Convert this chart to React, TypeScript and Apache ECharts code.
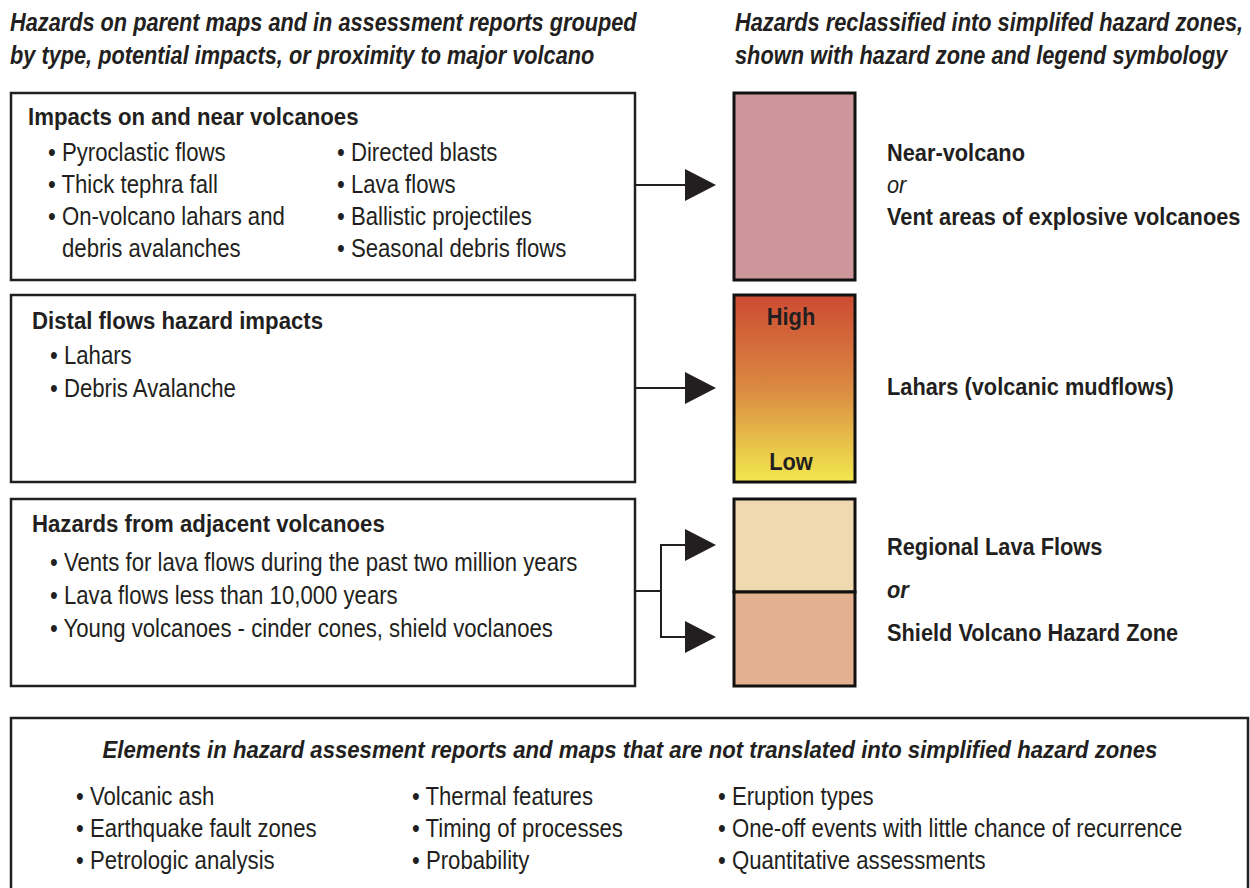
import React, { useEffect, useRef } from "react";
import * as echarts from "echarts";

const headerLeft = [
  "Hazards on parent maps and in assessment reports grouped",
  "by type, potential impacts, or proximity to major volcano",
];
const headerRight = [
  "Hazards reclassified into simplifed hazard zones,",
  "shown with hazard zone and legend symbology",
];
const box1Title = "Impacts on and near volcanoes";
const box1Col1 = ["• Pyroclastic flows", "• Thick tephra fall", "• On-volcano lahars and", "debris avalanches"];
const box1Col2 = ["• Directed blasts", "• Lava flows", "• Ballistic projectiles", "• Seasonal debris flows"];
const box2Title = "Distal flows hazard impacts";
const box2Items = ["• Lahars", "• Debris Avalanche"];
const box3Title = "Hazards from adjacent volcanoes";
const box3Items = [
  "• Vents for lava flows during the past two million years",
  "• Lava flows less than 10,000 years",
  "• Young volcanoes - cinder cones, shield voclanoes",
];
const zone1Labels = ["Near-volcano", "or", "Vent areas of explosive volcanoes"];
const zone2Label = "Lahars (volcanic mudflows)";
const zone2Scale = ["High", "Low"];
const zone3Labels = ["Regional Lava Flows", "or", "Shield Volcano Hazard Zone"];
const zoneColors = ["#cc969a", "#f0d9b0", "#e3b18f"];
const laharGradient = ["#cd4a33", "#da8a42", "#f2e84e"];
const bottomTitle =
  "Elements in hazard assesment reports and maps that are not translated into simplified hazard zones";
const bottomCol1 = ["• Volcanic ash", "• Earthquake fault zones", "• Petrologic analysis"];
const bottomCol2 = ["• Thermal features", "• Timing of processes", "• Probability"];
const bottomCol3 = ["• Eruption types", "• One-off events with little chance of recurrence", "• Quantitative assessments"];

const FONT = "'Liberation Sans', Arial, Helvetica, sans-serif";
const INK = "#231f20";

function txt(x: number, y: number, text: string, size: number, sx: number, opts: any = {}) {
  return {
    type: "text",
    x,
    y,
    scaleX: sx,
    style: {
      text,
      fill: INK,
      font: `${opts.italic ? "italic " : ""}${opts.bold ? "bold " : ""}${size}px ${FONT}`,
      textAlign: opts.align || "left",
      textVerticalAlign: "middle",
    },
  };
}

const BODY_SIZE = 25;
const BODY_SX = 0.887;

function list(x: number, y0: number, step: number, items: string[]) {
  return items.map((t, i) =>
    txt(t.startsWith("•") ? x : x + 14, y0 + i * step, t, BODY_SIZE, BODY_SX)
  );
}

function title(x: number, y: number, t: string) {
  return txt(x, y, t, 24, 0.925, { bold: true });
}

function label(x: number, y: number, t: string, opts: any = { bold: true }) {
  return txt(x, y, t, 24, 0.908, opts);
}

function arrowHead(xTip: number, y: number) {
  return {
    type: "polygon",
    shape: { points: [[xTip - 31, y - 16], [xTip, y], [xTip - 31, y + 16]] },
    style: { fill: INK },
  };
}

export default function App() {
  const ref = useRef<HTMLDivElement>(null);
  useEffect(() => {
    document.body.style.margin = "0";
    const chart = echarts.init(ref.current!, null, { renderer: "svg" });
    const boxStyle = { fill: "#fff", stroke: INK, lineWidth: 2.5 };
    const zoneStroke = { stroke: "#111", lineWidth: 3 };
    const elements: any[] = [
      // headers
      ...headerLeft.map((t, i) => txt(10, 22 + i * 33, t, 26, 0.836, { bold: true, italic: true })),
      ...headerRight.map((t, i) => txt(735, 22 + i * 33, t, 26, 0.838, { bold: true, italic: true })),
      // left boxes
      { type: "rect", shape: { x: 11, y: 93, width: 624, height: 187 }, style: boxStyle },
      { type: "rect", shape: { x: 11, y: 295, width: 624, height: 187 }, style: boxStyle },
      { type: "rect", shape: { x: 11, y: 499, width: 624, height: 187 }, style: boxStyle },
      title(28, 117, box1Title),
      ...list(48, 153, 32, box1Col1),
      ...list(337, 153, 32, box1Col2),
      title(32, 321, box2Title),
      ...list(50, 356, 33, box2Items),
      title(32, 524, box3Title),
      ...list(50, 563, 33, box3Items),
      // zones
      { type: "rect", shape: { x: 734, y: 93, width: 121, height: 187 }, style: { fill: zoneColors[0], ...zoneStroke } },
      {
        type: "rect",
        shape: { x: 734, y: 295, width: 121, height: 187 },
        style: {
          fill: new echarts.graphic.LinearGradient(0, 0, 0, 1, [
            { offset: 0, color: laharGradient[0] },
            { offset: 0.5, color: laharGradient[1] },
            { offset: 1, color: laharGradient[2] },
          ]),
          ...zoneStroke,
        },
      },
      { type: "rect", shape: { x: 734, y: 499, width: 121, height: 93 }, style: { fill: zoneColors[1], ...zoneStroke } },
      { type: "rect", shape: { x: 734, y: 592, width: 121, height: 94 }, style: { fill: zoneColors[2], ...zoneStroke } },
      txt(791, 317, zone2Scale[0], 24, 0.91, { bold: true, align: "center" }),
      txt(791, 462, zone2Scale[1], 24, 0.91, { bold: true, align: "center" }),
      // zone labels
      label(887, 153, zone1Labels[0]),
      label(887, 185, zone1Labels[1], { italic: true }),
      label(887, 217, zone1Labels[2]),
      label(887, 387, zone2Label),
      label(887, 547, zone3Labels[0]),
      label(887, 590, zone3Labels[1], { italic: true, bold: true }),
      label(887, 633, zone3Labels[2]),
      // arrows
      { type: "line", shape: { x1: 635, y1: 185, x2: 690, y2: 185 }, style: { stroke: INK, lineWidth: 2 } },
      arrowHead(716, 185),
      { type: "line", shape: { x1: 635, y1: 388, x2: 690, y2: 388 }, style: { stroke: INK, lineWidth: 2 } },
      arrowHead(716, 388),
      { type: "line", shape: { x1: 635, y1: 591, x2: 661, y2: 591 }, style: { stroke: INK, lineWidth: 2 } },
      {
        type: "polyline",
        shape: { points: [[690, 545], [661, 545], [661, 637], [690, 637]] },
        style: { stroke: INK, lineWidth: 2, fill: null },
      },
      arrowHead(716, 545),
      arrowHead(716, 637),
      // bottom box
      { type: "rect", shape: { x: 11, y: 718, width: 1237, height: 190 }, style: boxStyle },
      txt(630, 750, bottomTitle, 24, 0.922, { bold: true, italic: true, align: "center" }),
      ...list(76, 797, 32, bottomCol1),
      ...list(412, 797, 32, bottomCol2),
      ...list(718, 797, 32, bottomCol3),
    ];
    chart.setOption({
      animation: false,
      backgroundColor: "#fff",
      graphic: { elements },
    });
    return () => chart.dispose();
  }, []);
  return <div ref={ref} style={{ position: "absolute", left: 0, top: 0, width: 1250, height: 888 }} />;
}
